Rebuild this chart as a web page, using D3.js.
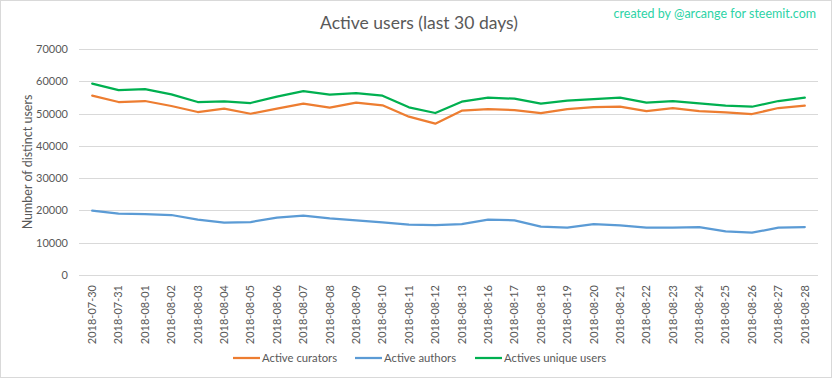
<!DOCTYPE html>
<html><head><meta charset="utf-8">
<script src="https://cdnjs.cloudflare.com/ajax/libs/d3/7.8.5/d3.min.js"></script>
<style>
html,body{margin:0;padding:0;background:#fff;}
svg{display:block;font-family:Lato,"Open Sans",sans-serif;}
</style></head>
<body>
<svg id="chart" width="833" height="379"></svg>
<script>
const categories = ["2018-07-30","2018-07-31","2018-08-01","2018-08-02","2018-08-03","2018-08-04","2018-08-05","2018-08-06","2018-08-07","2018-08-08","2018-08-09","2018-08-10","2018-08-11","2018-08-12","2018-08-13","2018-08-16","2018-08-17","2018-08-18","2018-08-19","2018-08-20","2018-08-21","2018-08-22","2018-08-23","2018-08-24","2018-08-25","2018-08-26","2018-08-27","2018-08-28"];
const curators = [55530,53580,53890,52340,50480,51500,49950,51500,53050,51810,53370,52550,49030,46860,50880,51410,51100,50170,51410,52030,52120,50790,51720,50790,50390,49860,51720,52430];
const authors = [19910,18990,18890,18580,17130,16200,16410,17750,18370,17560,16940,16320,15580,15480,15790,17130,16940,14960,14650,15790,15390,14650,14650,14860,13530,13100,14650,14860];
const uniques = [59250,57290,57600,55960,53580,53790,53270,55220,56980,55840,56360,55530,51940,50170,53680,54920,54610,53050,53980,54510,54920,53370,53890,53170,52430,52120,53890,54920];
const yTicks = [0,10000,20000,30000,40000,50000,60000,70000];
const seriesNames = ["Active curators","Active authors","Actives unique users"];
const seriesColors = ["#ed7d31","#5b9bd5","#00b050"];

(function(){
const svg = d3.select("#chart");
const W = 833, H = 379;
const pLeft = 79, pRight = 818, pTop = 49, pBottom = 275;

svg.append("rect").attr("x",0.5).attr("y",0.5).attr("width",W-2).attr("height",H-2)
  .attr("fill","#fff").attr("stroke","#d9d9d9").attr("stroke-width",1);

const x = d3.scaleBand().domain(categories).range([pLeft,pRight]);
const y = d3.scaleLinear().domain([0,70000]).range([pBottom,pTop]);

svg.append("g").selectAll("line").data(yTicks).join("line")
  .attr("x1",pLeft).attr("x2",pRight)
  .attr("y1",d=>Math.round(y(d))+0.5).attr("y2",d=>Math.round(y(d))+0.5)
  .attr("stroke","#d9d9d9").attr("stroke-width",1);

const yAxis = svg.append("g").attr("transform",`translate(${pLeft},0)`)
  .call(d3.axisLeft(y).tickValues(yTicks).tickSize(0).tickPadding(11).tickFormat(d3.format("d")));
yAxis.select(".domain").remove();
yAxis.selectAll("text").attr("fill","#595959").style("font-size","11px").style("font-family","Lato, 'Open Sans', sans-serif");

const xAxis = svg.append("g").attr("transform",`translate(0,${pBottom})`)
  .call(d3.axisBottom(x).tickSize(0).tickPadding(0));
xAxis.select(".domain").remove();
xAxis.selectAll("text")
  .attr("fill","#595959").style("font-size","11px").style("font-family","Lato, 'Open Sans', sans-serif")
  .attr("text-anchor","end").attr("dy","0.35em")
  .attr("transform","translate(0,10) rotate(-90)")
  .attr("x",0).attr("y",0);

svg.append("text").attr("transform",`translate(32,162) rotate(-90)`)
  .attr("text-anchor","middle").attr("fill","#595959").style("font-size","12.5px")
  .text("Number of distinct users");

const line = d3.line().x((d,i)=>x(categories[i])+x.bandwidth()/2).y(d=>y(d));
[curators,authors,uniques].forEach((s,k)=>{
  svg.append("path").datum(s).attr("d",line).attr("fill","none")
    .attr("stroke",seriesColors[k]).attr("stroke-width",2.25)
    .attr("stroke-linejoin","round").attr("stroke-linecap","round");
});

svg.append("text").attr("x",419).attr("y",29).attr("text-anchor","middle")
  .attr("fill","#595959").style("font-size","17.5px").text("Active users (last 30 days)");
svg.append("text").attr("x",816).attr("y",18).attr("text-anchor","end")
  .attr("fill","#2dd3a6").style("font-size","12.5px").text("created by @arcange for steemit.com");

const legX = [233,355,475];
const lg = svg.append("g");
seriesNames.forEach((n,k)=>{
  lg.append("line").attr("x1",legX[k]).attr("x2",legX[k]+27).attr("y1",358).attr("y2",358)
    .attr("stroke",seriesColors[k]).attr("stroke-width",2.25);
  lg.append("text").attr("x",legX[k]+29).attr("y",362).attr("fill","#595959")
    .style("font-size","11.3px").text(n);
});
})();
</script>
</body></html>
